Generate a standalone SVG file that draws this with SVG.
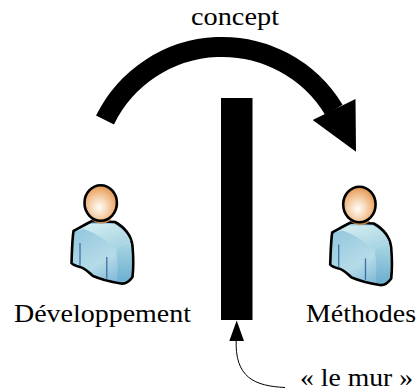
<svg xmlns="http://www.w3.org/2000/svg" width="417" height="391" viewBox="0 0 417 391">
<style>
text{font-family:"Liberation Serif","Times New Roman",serif;font-size:25px;fill:#000}
.o{stroke:#000;stroke-width:2.6;stroke-linejoin:round}
.fold{fill:none;stroke:#3f6fa3;stroke-width:1.3}
</style>
<defs>
<radialGradient id="skin" cx="0.45" cy="0.62" r="0.62"><stop offset="0" stop-color="#fffdfa"/><stop offset="0.35" stop-color="#f8dcc0"/><stop offset="0.75" stop-color="#eeb27a"/><stop offset="1" stop-color="#dc9652"/></radialGradient>
<linearGradient id="shirt" x1="0.1" y1="0" x2="0.7" y2="1"><stop offset="0" stop-color="#8fc4dc"/><stop offset="0.65" stop-color="#b5dbe8"/><stop offset="1" stop-color="#7fb8d6"/></linearGradient>
<linearGradient id="sleeve" x1="0" y1="0" x2="0" y2="1"><stop offset="0" stop-color="#a9d6e2"/><stop offset="1" stop-color="#6cafd0"/></linearGradient>
<linearGradient id="hi" x1="0" y1="0" x2="0.6" y2="1"><stop offset="0" stop-color="#d9f0f1"/><stop offset="1" stop-color="#a7d4e3"/></linearGradient>
<filter id="soft" x="-10%" y="-10%" width="120%" height="120%"><feGaussianBlur stdDeviation="0.7"/></filter>
<g id="person">
<path class="o" fill="url(#shirt)" d="M73.500 231 C79 228 84 225 92 221 L115 222 C124 227 131 234 132.500 246 C133.500 258 133.500 268 132.500 277 C129 282 125 284 121 283.500 C112 282 100 279 93 276 C88 272 85 268 80 267 C76 266 73 265 71.500 263 C72 252 72 241 73.500 231 Z"/>
<path fill="url(#hi)" filter="url(#soft)" d="M75 232 L90 224 L114 224 C122 229 127 233 130.500 241 C124 241 119 245 116 249 C108 241 97 234 84 229 C81 229 78 231 75 232 Z"/>
<path fill="url(#sleeve)" filter="url(#soft)" d="M116 250 C120 245 125 242 130.500 243 C131.500 254 131.500 266 131 276 C128 280 123 282 117 281.500 C118 271 118 260 116 250 Z"/>
<path fill="#c98a52" d="M92 220 C97 224.500 106 224.500 111 220 L109 217 L94 217 Z"/>
<path class="fold" d="M80 243 L80 266 M106.800 257 L106.800 278.500"/>
<ellipse class="o" cx="100.700" cy="203" rx="16.200" ry="17.700" fill="url(#skin)"/>
</g>
</defs>
<g id="connectors">
<path d="M105 120 A130.600 130.600 0 0 1 334 110" fill="none" stroke="#000" stroke-width="20"/>
<path d="M355.500 99 L356 151.700 L312.700 120 Z" fill="#000"/>
<path d="M285 387.500 C255 386 234 378 236.300 338" fill="none" stroke="#000" stroke-width="1"/>
<path d="M236.700 320.500 L229.300 341 L244 341 Z" fill="#000"/>
</g>
<g id="mur"><rect x="221" y="98" width="31.500" height="222" fill="#000"/></g>
<g id="developpement"><use href="#person"/><text x="14" y="322" textLength="177" lengthAdjust="spacingAndGlyphs">Développement</text></g>
<g id="methodes"><use href="#person" x="258.700" y="1.500"/><text x="306" y="322" textLength="110" lengthAdjust="spacingAndGlyphs">Méthodes</text></g>
<g id="concept"><text x="191" y="25" textLength="88" lengthAdjust="spacingAndGlyphs">concept</text></g>
<g id="lemur"><text x="300" y="386" textLength="113" lengthAdjust="spacingAndGlyphs">« le mur »</text></g>
</svg>
